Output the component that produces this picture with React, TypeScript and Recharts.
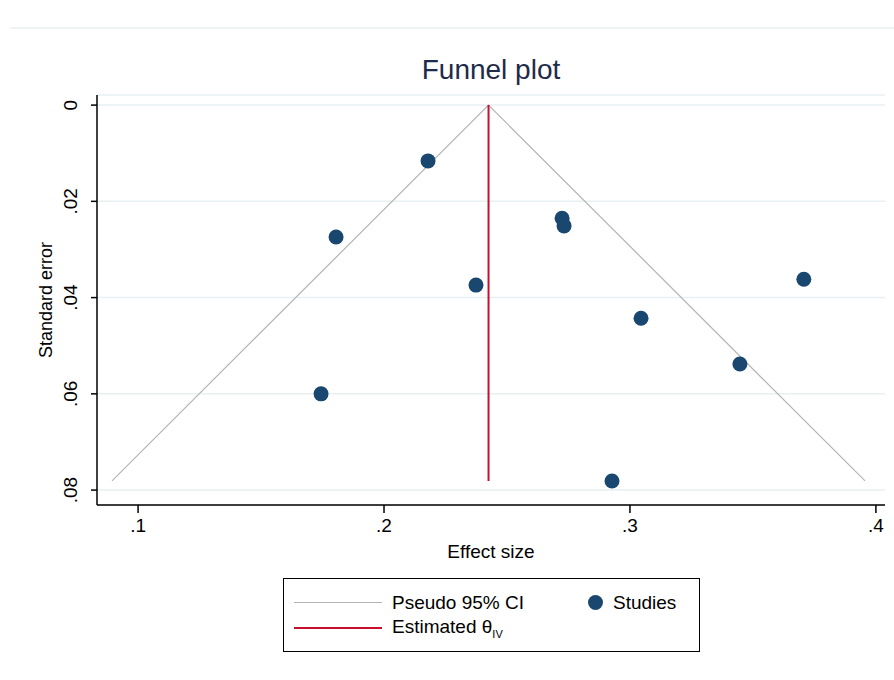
import React from 'react';
import { ScatterChart, Scatter, XAxis, YAxis, CartesianGrid } from 'recharts';

const effectSize = [0.2179, 0.1805, 0.2374, 0.2724, 0.2732, 0.3707, 0.3045, 0.3447, 0.1744, 0.2927];
const standardError = [0.0116, 0.0274, 0.0374, 0.0235, 0.0251, 0.0362, 0.0443, 0.0538, 0.0600, 0.0781];
const thetaIV = 0.2425;
const maxSE = 0.0781;
const funnelX = [0.0894, 0.2425, 0.3956];
const funnelY = [0.0781, 0, 0.0781];
const xTicks = [0.1, 0.2, 0.3, 0.4];
const yTicks = [0, 0.02, 0.04, 0.06, 0.08];

const studies = effectSize.map((x, i) => ({ x, y: standardError[i] }));
const funnel = funnelX.map((x, i) => ({ x, y: funnelY[i] }));
const estimate = [{ x: thetaIV, y: 0 }, { x: thetaIV, y: maxSE }];

const NAVY = '#1a476f';
const RED = '#c8102e';
const GREY = '#b4b4b4';
const FONT = '"Liberation Sans", Arial, sans-serif';

const fmt = (v: number) => (v === 0 ? '0' : String(v).replace(/^0/, ''));

function YTick({ x, y, payload }: any) {
  return (
    <text
      x={x - 12}
      y={y}
      transform={`rotate(-90 ${x - 12} ${y})`}
      textAnchor="middle"
      fontSize={19}
      fontFamily={FONT}
      fill="#000"
    >
      {fmt(payload.value)}
    </text>
  );
}

function XTick({ x, y, payload }: any) {
  return (
    <text x={x} y={y + 17} textAnchor="middle" fontSize={19} fontFamily={FONT} fill="#000">
      {fmt(payload.value)}
    </text>
  );
}

function FunnelLegend() {
  const row: React.CSSProperties = { display: 'flex', alignItems: 'center', height: 25 };
  return (
    <div
      style={{
        position: 'absolute',
        left: 283,
        top: 578,
        border: '1.5px solid #000',
        width: 417,
        height: 74,
        boxSizing: 'border-box',
        fontFamily: FONT,
        fontSize: 19,
        color: '#000',
        padding: '11px 0 0 10px',
        background: '#fff',
      }}
    >
      <div style={row}>
        <span style={{ width: 88, borderTop: `1.5px solid ${GREY}`, marginRight: 10 }} />
        <span style={{ width: 196 }}>Pseudo 95% CI</span>
        <span style={{ width: 15, height: 15, borderRadius: 8, background: NAVY, marginRight: 10 }} />
        <span>Studies</span>
      </div>
      <div style={row}>
        <span style={{ width: 88, borderTop: `2px solid ${RED}`, marginRight: 10 }} />
        <span>
          Estimated θ<sub style={{ fontSize: 11 }}>IV</sub>
        </span>
      </div>
    </div>
  );
}

export default function App() {
  return (
    <div style={{ position: 'absolute', left: 0, top: 0, width: 894, height: 680, background: '#fff' }}>
      <div style={{ position: 'absolute', left: 10, right: 0, top: 27, borderTop: '2px solid #eef3f4' }} />
      <div
        style={{
          position: 'absolute',
          left: 97,
          width: 788,
          top: 54,
          textAlign: 'center',
          fontFamily: FONT,
          fontSize: 28,
          color: '#1e2b4a',
        }}
      >
        Funnel plot
      </div>
      <ScatterChart width={894} height={680} margin={{ top: 95, right: 9, bottom: 115, left: 0 }}>
        <CartesianGrid horizontal vertical={false} stroke="#e8f0f2" strokeWidth={1.5} />
        <XAxis
          type="number"
          dataKey="x"
          domain={[0.0833, 0.4037]}
          ticks={xTicks}
          allowDataOverflow
          stroke="#000"
          strokeWidth={1.5}
          tickSize={8}
          tick={<XTick />}
          height={60}
          label={{ value: 'Effect size', position: 'insideBottom', offset: 7, fontSize: 19, fontFamily: FONT, fill: '#000' }}
        />
        <YAxis
          type="number"
          dataKey="y"
          reversed
          domain={[-0.0021, 0.0831]}
          ticks={yTicks}
          allowDataOverflow
          stroke="#000"
          strokeWidth={1.5}
          tickSize={6}
          tick={<YTick />}
          width={97}
          label={{ value: 'Standard error', angle: -90, position: 'insideLeft', offset: 46, fontSize: 18, fontFamily: FONT, fill: '#000', style: { textAnchor: 'middle' } }}
        />
        <Scatter
          data={funnel}
          line={{ stroke: GREY, strokeWidth: 1.2 }}
          shape={() => null}
          isAnimationActive={false}
          legendType="none"
        />
        <Scatter
          data={estimate}
          line={{ stroke: RED, strokeWidth: 2 }}
          shape={() => null}
          isAnimationActive={false}
          legendType="none"
        />
        <Scatter data={studies} fill={NAVY} isAnimationActive={false} shape={(p: any) => <circle cx={p.cx} cy={p.cy} r={7.5} fill={NAVY} />} />
      </ScatterChart>
      <FunnelLegend />
    </div>
  );
}
